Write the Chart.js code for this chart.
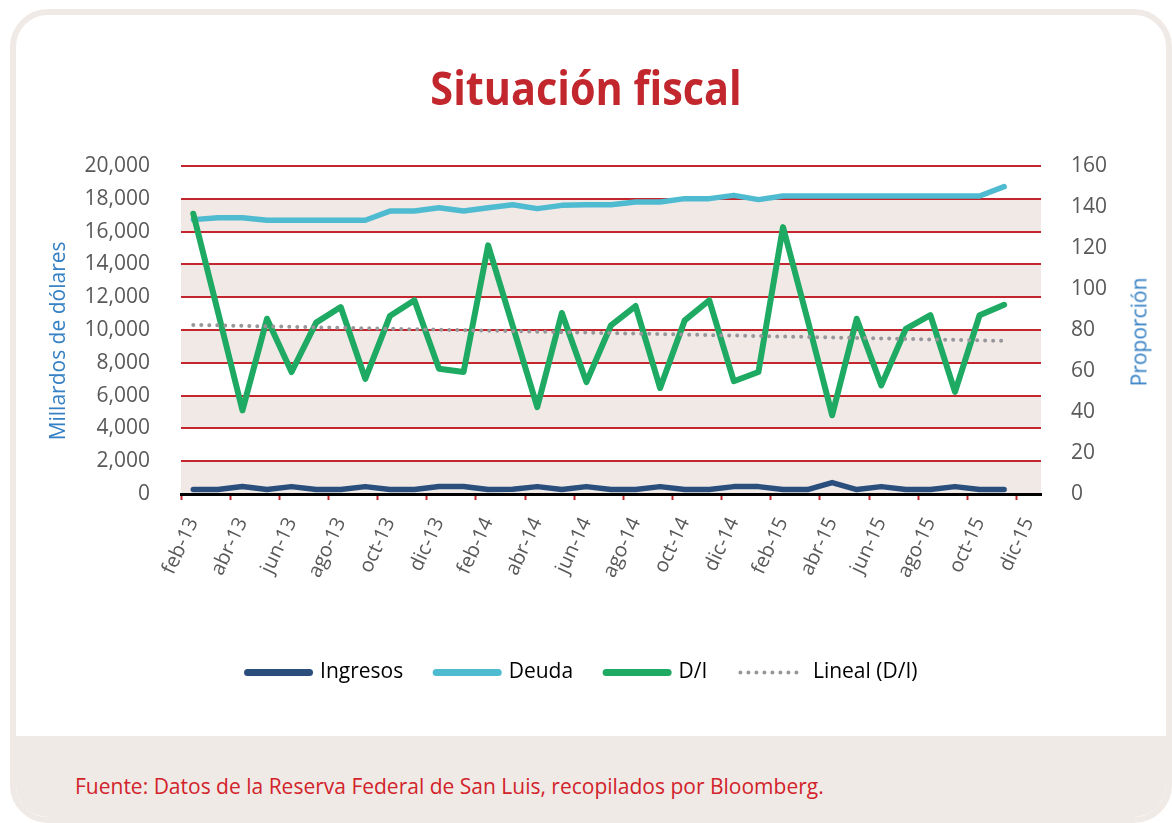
<!DOCTYPE html>
<html lang="es">
<head>
<meta charset="utf-8">
<title>Situación fiscal</title>
<script src="https://cdn.jsdelivr.net/npm/chart.js@4.4.1/dist/chart.umd.min.js"></script>
<style>
  html, body { margin: 0; padding: 0; background: #fff; }
  body { width: 1172px; height: 823px; position: relative; overflow: hidden; font-family: 'Open Sans', sans-serif; }
  .tarjeta {
    position: absolute; left: 10px; top: 9px; width: 1162px; height: 814px;
    box-sizing: border-box; border: 6px solid #F0EAE7; border-radius: 38px; overflow: hidden;
  }
  .pie { position: absolute; left: 0; right: 0; top: 721px; bottom: 0; background: #F0EAE7; }
  .grafico { position: absolute; left: 0; top: 0; width: 1172px; height: 736px; z-index: 1; }
  h1 {
    position: absolute; left: 0; width: 1172px; top: 62px; margin: 0; z-index: 2;
    text-align: center; font-size: 46px; line-height: 50px; font-weight: 700; color: #C1272D;
    transform: scaleX(0.9);
  }
  .fuente {
    position: absolute; left: 75px; top: 774px; margin: 0; z-index: 2;
    font-size: 21px; line-height: 24px; color: #D2232A; white-space: nowrap;
  }
  .eje-der {
    position: absolute; left: 1139px; top: 332px; z-index: 2;
    transform: translate(-50%, -50%) rotate(-90deg);
    font-size: 21px; line-height: 1; color: #3580C4; white-space: nowrap;
  }
</style>
</head>
<body>
<div class="tarjeta"><div class="pie"></div></div>
<h1>Situación fiscal</h1>
<div class="grafico"><canvas id="grafico-fiscal"></canvas></div>
<div class="eje-der">Proporción</div>
<p class="fuente">Fuente: Datos de la Reserva Federal de San Luis, recopilados por Bloomberg.</p>

<script>
// meses del eje (feb-13 a dic-15), etiqueta cada dos meses
const meses = [
  'feb-13', 'mar-13', 'abr-13', 'may-13', 'jun-13', 'jul-13', 'ago-13', 'sep-13', 'oct-13', 'nov-13', 'dic-13',
  'ene-14', 'feb-14', 'mar-14', 'abr-14', 'may-14', 'jun-14', 'jul-14', 'ago-14', 'sep-14', 'oct-14', 'nov-14', 'dic-14',
  'ene-15', 'feb-15', 'mar-15', 'abr-15', 'may-15', 'jun-15', 'jul-15', 'ago-15', 'sep-15', 'oct-15', 'nov-15', 'dic-15'
];

// millardos de dólares (eje izquierdo)
const ingresos = [
  270, 270, 460, 270, 450, 270, 270, 450, 270, 270, 460,
  460, 270, 290, 450, 270, 450, 270, 270, 450, 270, 270, 450,
  450, 270, 270, 700, 270, 450, 270, 270, 450, 270, 270
];
const deuda = [
  16730, 16850, 16850, 16690, 16690, 16690, 16690, 16690, 17250, 17250, 17450,
  17250, 17450, 17640, 17400, 17600, 17640, 17640, 17800, 17800, 18010, 18010, 18210,
  17950, 18170, 18170, 18170, 18170, 18170, 18170, 18170, 18170, 18170, 18740
];

// proporción deuda / ingresos (eje derecho)
const deudaIngresos = [
  136.7, 89, 40.8, 85.5, 59.5, 83.6, 91.2, 56.2, 86.8, 94.5, 61.1,
  59.5, 121.3, 82, 42.4, 88.3, 54.6, 82.3, 91.7, 51.7, 84.7, 94.5, 55,
  59.5, 130.2, 85, 38.4, 85.5, 53, 80.6, 87.2, 49.8, 87.2, 92.3
];
// tendencia lineal de D/I: extremos
const lineaDI = [
  { x: 'feb-13', y: 82.5 },
  { x: 'nov-15', y: 74.7 }
];

const ROJO = '#C4262E';
const GRIS = '#595959';
const AZUL_TITULO = '#3580C4';

Chart.defaults.font.family = "'Open Sans', sans-serif";

// franjas alternas entre las líneas de la cuadrícula
const franjas = {
  id: 'franjas',
  beforeDraw(chart) {
    const { ctx, chartArea } = chart;
    const y = chart.scales.y;
    ctx.save();
    ctx.fillStyle = '#F1E9E6';
    for (let i = 0; i < y.ticks.length - 1; i += 2) {
      const y1 = y.getPixelForValue(y.ticks[i].value);
      const y2 = y.getPixelForValue(y.ticks[i + 1].value);
      ctx.fillRect(chartArea.left, y2, chartArea.right - chartArea.left, y1 - y2);
    }
    ctx.restore();
  }
};

const estiloLinea = {
  pointRadius: 0,
  pointHoverRadius: 0,
  tension: 0,
  fill: false,
  borderCapStyle: 'round',
  borderJoinStyle: 'round'
};

const datos = {
  labels: meses,
  datasets: [
    { ...estiloLinea, label: 'Ingresos', data: ingresos, yAxisID: 'y', borderColor: '#2A4F7C', borderWidth: 5.5, order: 3 },
    { ...estiloLinea, label: 'Deuda', data: deuda, yAxisID: 'y', borderColor: '#4FBBD1', borderWidth: 5.5, order: 2 },
    { ...estiloLinea, label: 'D/I', data: deudaIngresos, yAxisID: 'y1', borderColor: '#1EAA62', borderWidth: 6, order: 1 },
    { ...estiloLinea, label: 'Lineal (D/I)', data: lineaDI, yAxisID: 'y1', borderColor: '#97979B', borderWidth: 4, borderDash: [0, 8], order: 0 }
  ]
};

const config = {
  type: 'line',
  data: datos,
  plugins: [franjas],
  options: {
    responsive: true,
    maintainAspectRatio: false,
    animation: false,
    devicePixelRatio: 1,
    layout: { padding: { top: 166, left: 23, right: 30, bottom: 43 } },
    plugins: {
      tooltip: { enabled: false },
      legend: {
        position: 'bottom',
        labels: {
          usePointStyle: true,
          pointStyleWidth: 62,
          boxHeight: 6,
          padding: 33,
          color: GRIS,
          font: { size: 21 },
          generateLabels: chart => chart.data.datasets.map((ds, i) => ({
            text: ds.label,
            datasetIndex: i,
            hidden: false,
            pointStyle: 'line',
            strokeStyle: ds.borderColor,
            fillStyle: ds.borderColor,
            lineWidth: ds.borderDash ? 4 : 7,
            lineCap: 'round',
            lineDash: ds.borderDash || []
          }))
        }
      }
    },
    scales: {
      x: {
        type: 'category',
        offset: true,
        grid: {
          display: true,
          drawOnChartArea: false,
          drawTicks: true,
          tickLength: 6,
          tickWidth: 2,
          offset: true,
          tickColor: c => (c.index % 2 === 0 ? ROJO : 'transparent')
        },
        border: { display: true, color: '#000', width: 3, z: 1 },
        ticks: {
          autoSkip: false,
          minRotation: 65,
          maxRotation: 65,
          padding: 14,
          color: GRIS,
          font: { size: 20 },
          callback: (v, i) => (i % 2 === 0 ? meses[i] : '')
        },
        afterFit(scale) { scale.height = 135; }
      },
      y: {
        position: 'left',
        min: 0,
        max: 20000,
        ticks: {
          stepSize: 2000,
          padding: 31,
          color: GRIS,
          font: { size: 21 },
          callback: v => v.toLocaleString('en-US')
        },
        grid: { color: ROJO, lineWidth: 2, drawTicks: false },
        border: { display: false },
        title: {
          display: true,
          // espacios finales: bajan el título unos px, como en el original
          text: 'Millardos de dólares    ',
          color: AZUL_TITULO,
          font: { size: 21 },
          padding: { top: 23, bottom: 0 }
        },
        afterFit(scale) { scale.width = 158; }
      },
      y1: {
        position: 'right',
        min: 0,
        max: 160,
        ticks: {
          stepSize: 20,
          padding: 22,
          color: GRIS,
          font: { size: 21 }
        },
        grid: { display: false },
        border: { display: false },
        afterFit(scale) { scale.width = 101; }
      }
    }
  }
};

const ctx = document.getElementById('grafico-fiscal');
if (ctx) {
  new Chart(ctx, config);
}
</script>
</body>
</html>
